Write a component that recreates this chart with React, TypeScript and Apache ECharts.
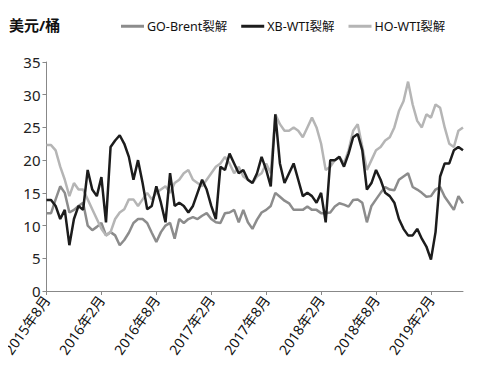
import React, { useEffect, useRef } from "react";
import * as echarts from "echarts";

// semi-monthly observations, Aug 2015 – mid-May 2019
const startYear = 2015;
const startMonth = 8;
const pointCount = 92;
const categories: string[] = [];
for (let i = 0; i < pointCount; i++) {
  const m = startMonth - 1 + Math.floor(i / 2);
  const y = startYear + Math.floor(m / 12);
  const mm = (m % 12) + 1;
  categories.push(`${y}-${String(mm).padStart(2, "0")}-${i % 2 === 0 ? "01" : "16"}`);
}

const goBrent = [
  11.9, 11.9, 14, 16, 15, 12, 12.4, 13, 13.5, 10, 9.3, 9.8, 10.4, 8.5, 9, 8.5,
  7, 7.8, 8.9, 10.4, 11, 11, 10.4, 8.9, 7.5, 9, 10, 10.4, 8, 11, 10.4, 11,
  11.3, 11, 11.5, 11.9, 11, 10.5, 10.4, 11.9, 12, 12.4, 10.5, 12.4, 10.5, 9.5,
  10.9, 12, 12.4, 13, 15, 14.4, 13.8, 13.4, 12.4, 12.4, 12.4, 12.9, 12.4, 12.4,
  11.9, 11.9, 12, 12.9, 13.4, 13.2, 12.9, 13.9, 14, 13.5, 10.5, 13, 14, 15,
  15.9, 15.5, 15.4, 17, 17.5, 18, 15.9, 15.5, 15, 14.4, 14.5, 15.5, 15.9, 14.4,
  13.4, 12.4, 14.5, 13.4,
];

const xbWti = [
  13.9, 13.9, 13, 11, 12.4, 7, 11, 13, 12.4, 18.5, 15.5, 14.5, 17.4, 10.5, 22, 23,
  23.8, 22.5, 20.5, 17, 20, 16.5, 12.5, 13, 16, 13.5, 10.5, 18, 13, 13.5, 13, 12,
  13, 15, 17, 15.5, 13, 11, 19, 18.5, 21, 19.5, 18, 18.5, 17, 16.5, 18, 20.5,
  18.5, 16, 27, 19.5, 16.5, 18, 19.5, 17, 14.5, 15, 14.5, 13.5, 15, 10.5, 20, 20,
  20.5, 19, 21, 23.5, 24, 21.5, 15.5, 16.5, 18.5, 17, 15, 14.5, 13.5, 11, 9.5, 8.5,
  8.5, 9.5, 8, 6.8, 4.8, 9, 17.5, 19.5, 19.5, 21.5, 22, 21.5,
];

const hoWti = [
  22.3, 22.3, 21.5, 19, 17, 14.5, 16.5, 15.5, 15.5, 14, 12.5, 11, 9.5, 8.5, 9, 11,
  12, 12.5, 14, 14, 13, 14, 15, 14, 15, 15.5, 16, 15, 16.5, 17, 18, 18.5, 17,
  16.5, 16, 17, 18, 19, 19.5, 20.5, 19.5, 18, 19, 17.5, 17, 16.5, 17.5, 18, 19.5,
  18, 27, 25.5, 24.5, 24.5, 25, 24.5, 23.5, 25, 26.5, 25, 22.5, 18.5, 19, 20,
  20.5, 19.5, 21.5, 24.5, 25.5, 22, 18.5, 20, 21.5, 22, 23, 23.5, 25, 27.5, 29,
  32, 28.5, 26, 25, 27, 26.5, 28.5, 28, 25, 22.5, 22, 24.5, 25,
];

const yTicks = [0, 5, 10, 15, 20, 25, 30, 35];
const seriesNames = ["GO-Brent裂解", "XB-WTI裂解", "HO-WTI裂解"];
const seriesColors = ["#8c8c8c", "#1c1c1c", "#b5b5b5"];

function labelOf(c: string): string {
  const [y, m] = c.split("-");
  return `${y}年${parseInt(m, 10)}月`;
}

export default function App() {
  const ref = useRef<HTMLDivElement>(null);
  useEffect(() => {
    if (!ref.current) return;
    const chart = echarts.init(ref.current, null, { renderer: "svg" });
    const font = "'Noto Sans', 'Noto Sans CJK SC', sans-serif";
    const data = [goBrent, xbWti, hoWti];
    chart.setOption({
      animation: false,
      backgroundColor: "#ffffff",
      textStyle: { fontFamily: font },
      title: {
        text: "美元/桶",
        left: 4,
        top: 12,
        textStyle: { fontSize: 15, fontWeight: "bold", color: "#111", fontFamily: font },
      },
      legend: {
        top: 15,
        left: 116,
        width: 370,
        itemWidth: 23,
        itemHeight: 3,
        itemGap: 14,
        icon: "rect",
        textStyle: { fontSize: 12.5, color: "#111", fontFamily: font, padding: [0, 0, 0, -2] },
        data: seriesNames,
      },
      grid: { left: 46, right: 22, top: 62, bottom: 93, containLabel: false },
      xAxis: {
        type: "category",
        data: categories,
        boundaryGap: false,
        axisLine: { lineStyle: { color: "#888", width: 1 } },
        axisTick: { interval: 11, length: 4, lineStyle: { color: "#888" } },
        axisLabel: {
          interval: 11,
          rotate: 55,
          fontSize: 14,
          color: "#111",
          margin: 6,
          formatter: (v: string) => labelOf(v),
        },
        splitLine: { show: false },
      },
      yAxis: {
        type: "value",
        min: yTicks[0],
        max: yTicks[yTicks.length - 1],
        interval: 5,
        axisLine: { show: true, lineStyle: { color: "#888", width: 1 } },
        axisTick: { show: true, length: 4, lineStyle: { color: "#888" } },
        axisLabel: { fontSize: 15, color: "#222", margin: 6 },
        splitLine: { show: false },
      },
      series: data.map((d, i) => ({
        name: seriesNames[i],
        type: "line",
        data: d,
        showSymbol: false,
        symbol: "none",
        z: i === 1 ? 4 : 2,
        lineStyle: { color: seriesColors[i], width: 2.5 },
        itemStyle: { color: seriesColors[i] },
      })),
    });
    return () => chart.dispose();
  }, []);
  return <div ref={ref} style={{ width: 485, height: 384, marginLeft: -8, marginTop: -8 }} />;
}
